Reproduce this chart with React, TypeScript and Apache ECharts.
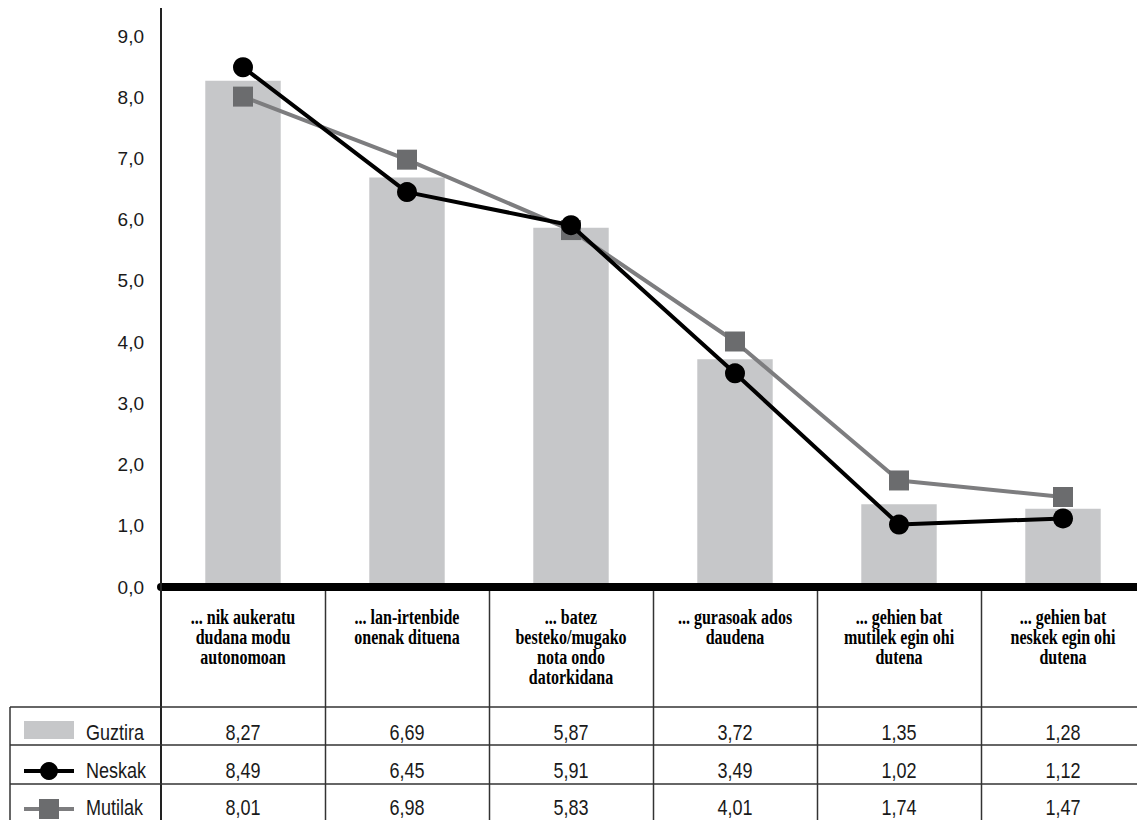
import React, { useEffect, useRef } from "react";
import * as echarts from "echarts";

const categories = [
  "... nik aukeratu\ndudana modu\nautonomoan",
  "... lan-irtenbide\nonenak dituena",
  "... batez\nbesteko/mugako\nnota ondo\ndatorkidana",
  "... gurasoak ados\ndaudena",
  "... gehien bat\nmutilek egin ohi\ndutena",
  "... gehien bat\nneskek egin ohi\ndutena",
];
const guztira = [8.27, 6.69, 5.87, 3.72, 1.35, 1.28];
const neskak = [8.49, 6.45, 5.91, 3.49, 1.02, 1.12];
const mutilak = [8.01, 6.98, 5.83, 4.01, 1.74, 1.47];
const seriesNames = ["Guztira", "Neskak", "Mutilak"];
const yMin = 0;
const yMax = 9;
const yInterval = 1;

const W = 1145;
const H = 820;
const GRID_LEFT = 161;
const GRID_TOP = 36;
const GRID_BOTTOM = 233;
const CAT_W = (W - GRID_LEFT) / categories.length;

const BAR_COLOR = "#c6c7c9";
const NESK_COLOR = "#000000";
const MUT_LINE = "#7d7d7f";
const MUT_SYM = "#6b6c6e";

const NUM_FONT = '"Liberation Sans", Arial, sans-serif';
const HEAD_FONT = '"Liberation Serif", "Times New Roman", serif';

const fmt = (v: number) => v.toFixed(2).replace(".", ",");

export default function App() {
  const ref = useRef<HTMLDivElement>(null);
  useEffect(() => {
    if (!ref.current) return;
    const chart = echarts.init(ref.current, undefined, { renderer: "svg" });

    const rowLines = [707, 745, 784];
    const rowText = [732, 770, 807];
    const tableData = [guztira, neskak, mutilak];
    const g: any[] = [];

    // y axis line (extends through table)
    g.push({ type: "line", z: 20, shape: { x1: GRID_LEFT, y1: 8, x2: GRID_LEFT, y2: H }, style: { stroke: "#222", lineWidth: 2 } });
    // column separators
    for (let k = 1; k < categories.length; k++) {
      const x = Math.round(GRID_LEFT + CAT_W * k) + 0.5;
      g.push({ type: "line", z: 20, shape: { x1: x, y1: 591, x2: x, y2: H }, style: { stroke: "#333", lineWidth: 1.5 } });
    }
    // row lines
    rowLines.forEach((y) => {
      g.push({ type: "line", z: 20, shape: { x1: 10, y1: y, x2: W, y2: y }, style: { stroke: "#333", lineWidth: 1.5 } });
    });
    g.push({ type: "line", z: 20, shape: { x1: 10, y1: rowLines[0], x2: 10, y2: H }, style: { stroke: "#333", lineWidth: 1.5 } });

    // header (category) labels, condensed bold serif
    categories.forEach((c, j) => {
      g.push({
        type: "text", z: 20, x: GRID_LEFT + CAT_W * (j + 0.5), y: 607, scaleX: 0.8,
        style: {
          text: c, font: `bold 20px ${HEAD_FONT}`, fill: "#000", lineHeight: 20,
          textAlign: "center", textVerticalAlign: "top",
        },
      });
    });

    // legend keys
    g.push({ type: "rect", z: 20, shape: { x: 24, y: 721, width: 50, height: 18 }, style: { fill: BAR_COLOR } });
    g.push({ type: "line", z: 20, shape: { x1: 24, y1: 771, x2: 74, y2: 771 }, style: { stroke: NESK_COLOR, lineWidth: 4 } });
    g.push({ type: "circle", z: 21, shape: { cx: 49, cy: 771, r: 9 }, style: { fill: NESK_COLOR } });
    g.push({ type: "line", z: 20, shape: { x1: 24, y1: 809, x2: 74, y2: 809 }, style: { stroke: MUT_LINE, lineWidth: 4 } });
    g.push({ type: "rect", z: 21, shape: { x: 39, y: 799, width: 20, height: 20 }, style: { fill: MUT_SYM } });

    seriesNames.forEach((n, i) => {
      g.push({
        type: "text", z: 20, x: 86, y: rowText[i], scaleX: 0.82,
        style: { text: n, font: `22px ${NUM_FONT}`, fill: "#1a1a1a", textVerticalAlign: "middle", textAlign: "left" },
      });
      tableData[i].forEach((v, j) => {
        g.push({
          type: "text", z: 20, x: GRID_LEFT + CAT_W * (j + 0.5), y: rowText[i], scaleX: 0.82,
          style: { text: fmt(v), font: `22px ${NUM_FONT}`, fill: "#1a1a1a", textVerticalAlign: "middle", textAlign: "center" },
        });
      });
    });

    chart.setOption({
      animation: false,
      grid: { left: GRID_LEFT, right: 0, top: GRID_TOP, bottom: GRID_BOTTOM, containLabel: false },
      xAxis: {
        type: "category",
        data: categories,
        z: 10,
        axisLine: { show: true, lineStyle: { color: "#000", width: 8 } },
        axisTick: { show: false },
        splitLine: { show: false },
        axisLabel: { show: false },
      },
      yAxis: {
        type: "value",
        min: yMin,
        max: yMax,
        interval: yInterval,
        axisLine: { show: false },
        axisTick: { show: false },
        splitLine: { show: false },
        axisLabel: {
          margin: 17,
          color: "#1a1a1a",
          fontFamily: NUM_FONT,
          fontSize: 19,
          formatter: (v: number) => v.toFixed(1).replace(".", ","),
        },
      },
      series: [
        {
          name: seriesNames[0],
          type: "bar",
          data: guztira,
          barWidth: "46%",
          itemStyle: { color: BAR_COLOR },
          z: 2,
        },
        {
          name: seriesNames[2],
          type: "line",
          data: mutilak,
          symbol: "rect",
          symbolSize: 20,
          lineStyle: { color: MUT_LINE, width: 4 },
          itemStyle: { color: MUT_SYM },
          z: 3,
        },
        {
          name: seriesNames[1],
          type: "line",
          data: neskak,
          symbol: "circle",
          symbolSize: 20,
          lineStyle: { color: NESK_COLOR, width: 4 },
          itemStyle: { color: NESK_COLOR },
          z: 4,
        },
      ],
      graphic: g,
    });
    return () => chart.dispose();
  }, []);

  return (
    <div style={{ position: "absolute", left: 0, top: 0, width: 1137, height: 820, overflow: "hidden", background: "#fff" }}>
      <div ref={ref} style={{ width: W, height: H }} />
    </div>
  );
}
